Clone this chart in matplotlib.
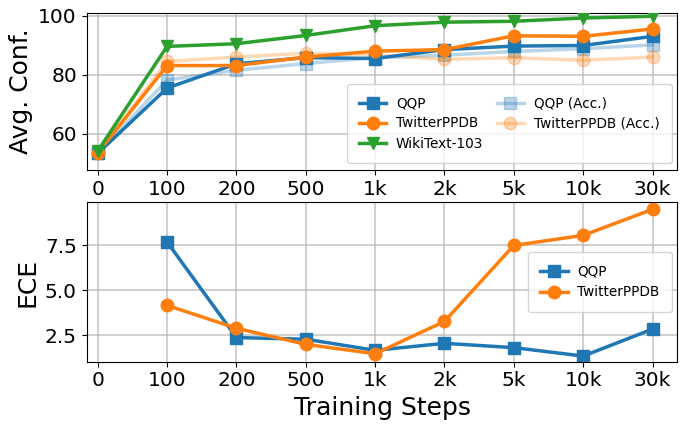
import matplotlib
matplotlib.use("Agg")
import matplotlib.pyplot as plt
import numpy as np

steps = ["0", "100", "200", "500", "1k", "2k", "5k", "10k", "30k"]

conf_qqp = [53.4, 75.5, 83.7, 85.8, 85.5, 88.5, 89.7, 89.9, 93.0]
conf_twitter = [53.6, 83.1, 83.1, 86.0, 88.0, 88.5, 93.2, 93.0, 95.5]
conf_wiki = [54.2, 89.6, 90.5, 93.3, 96.6, 97.8, 98.1, 99.2, 99.8]
acc_qqp = [53.4, 78.2, 81.5, 83.8, 85.8, 86.6, 87.9, 88.8, 90.1]
acc_twitter = [53.6, 84.5, 86.0, 87.3, 86.6, 85.2, 85.8, 84.9, 86.0]

ece_steps_idx = [1, 2, 3, 4, 5, 6, 7, 8]
ece_qqp = [7.69, 2.37, 2.28, 1.66, 2.05, 1.81, 1.34, 2.84]
ece_twitter = [4.16, 2.89, 1.99, 1.47, 3.27, 7.50, 8.06, 9.51]

blue, orange, green = "#1f77b4", "#ff7f0e", "#2ca02c"
lw, ms = 2.5, 9

fig = plt.figure(figsize=(6.85, 4.29), dpi=100)
ax1 = fig.add_axes([0.1265, 0.604, 0.8625, 0.365])
ax2 = fig.add_axes([0.1265, 0.157, 0.8625, 0.371])

x = np.arange(len(steps))
ax1.plot(x, conf_qqp, color=blue, marker="s", lw=lw, ms=ms, label="QQP", zorder=3)
ax1.plot(x, conf_twitter, color=orange, marker="o", lw=lw, ms=ms, label="TwitterPPDB", zorder=3)
ax1.plot(x, conf_wiki, color=green, marker="v", lw=lw, ms=ms, label="WikiText-103", zorder=3)
ax1.plot(x, acc_qqp, color=blue, marker="s", lw=lw, ms=ms, alpha=0.3, label="QQP (Acc.)", zorder=2)
ax1.plot(x, acc_twitter, color=orange, marker="o", lw=lw, ms=ms, alpha=0.3, label="TwitterPPDB (Acc.)", zorder=2)
ax1.set_ylim(47.8, 100.8)
ax1.set_yticks([60, 80, 100])
ax1.set_ylabel("Avg. Conf.", fontsize=18)
ax1.legend(loc="lower right", ncol=2, fontsize=9.8, bbox_to_anchor=(0.99, 0.045),
           borderaxespad=0, labelspacing=0.45, borderpad=0.9, columnspacing=1.0,
           handlelength=2.0, handletextpad=0.7)

xe = np.array(ece_steps_idx)
ax2.plot(xe, ece_qqp, color=blue, marker="s", lw=lw, ms=ms, label="QQP")
ax2.plot(xe, ece_twitter, color=orange, marker="o", lw=lw, ms=ms, label="TwitterPPDB")
ax2.set_ylim(1.03, 9.89)
ax2.set_yticks([2.5, 5.0, 7.5])
ax2.set_ylabel("ECE", fontsize=18)
ax2.set_xlabel("Training Steps", fontsize=18)
ax2.legend(loc="center right", fontsize=9.8, bbox_to_anchor=(0.99, 0.5),
           borderaxespad=0, labelspacing=0.5, borderpad=0.9, handlelength=2.0,
           handletextpad=0.7)

for ax in (ax1, ax2):
    ax.set_xticks(x)
    ax.set_xticklabels(steps)
    ax.set_xlim(-0.16, 8.36)
    ax.tick_params(labelsize=14.5)
    ax.grid(True, color="#b0b0b0", lw=1.2, alpha=0.7)
    ax.set_axisbelow(True)

fig.savefig("out.png", dpi=100)
